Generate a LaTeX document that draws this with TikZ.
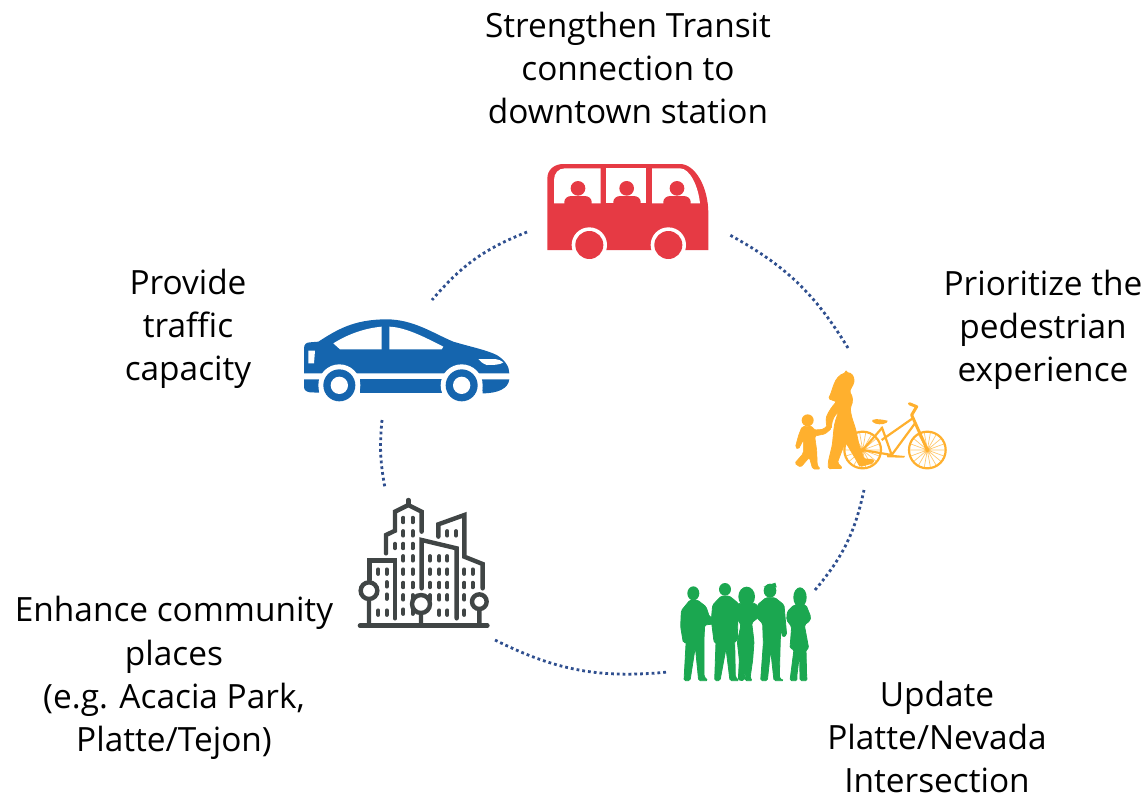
\documentclass[tikz,border=0pt]{standalone}
\usepackage{fontspec}
\setmainfont{Open Sans}
\definecolor{busred}{HTML}{E63A44}
\definecolor{carblue}{HTML}{1565AE}
\definecolor{walkor}{HTML}{FFB02E}
\definecolor{groupgr}{HTML}{1BA750}
\definecolor{citygr}{HTML}{404545}
\definecolor{dotblue}{HTML}{2F4F8F}
\tikzset{
 lab/.style={align=center,font=\fontsize{33.4}{43.2}\selectfont,text=black,inner sep=0pt},
 link/.style={draw=dotblue,line width=2.8pt,dash pattern=on 2.8pt off 3pt},
 zoomed/.style={x=0.33333pt,y=-0.33333pt},
 icon/.style={inner sep=0pt,outer sep=0pt,draw=none,fill=none},
 bld/.style={draw=citygr,line width=4.4pt,line join=miter,line cap=round},
 win/.style={draw=citygr,line width=3.8pt,line cap=round},
 soft/.style={rounded corners=1.6pt},
}
\begin{document}
\begin{tikzpicture}[x=1pt,y=-1pt]
\useasboundingbox (0,0) rectangle (1148,798);
% text
\node[lab] (t1) at (628,68) {Strengthen Transit\\connection to\\downtown station};
\node[lab] (t2) at (1043,330) {Prioritize the\\pedestrian\\experience};
\node[lab] (t3) at (937,737) {Update\\Platte/Nevada\\Intersection};
\node[lab] (t4) at (174,678) {Enhance community\\places\\(e.g. Acacia Park,\\Platte/Tejon)};
\node[lab] (t5) at (188,329) {Provide\\traffic\\capacity};
% connector ends
\coordinate (busL) at (527,232);
\coordinate (carT) at (432,300);
\coordinate (carB) at (382,420);
\coordinate (cityT) at (385,488);
\coordinate (cityR) at (495,640);
\coordinate (groupL) at (668,672);
\coordinate (groupR) at (815,590);
\coordinate (walkB) at (864,490);
\coordinate (walkT) at (848,348);
\coordinate (busR) at (728,234);
\draw[link] (busL) to[bend right=14] (carT);
\draw[link] (carB) to[bend right=8] (cityT);
\draw[link] (cityR) to[bend right=16] (groupL);
\draw[link] (groupR) to[bend right=14] (walkB);
\draw[link] (walkT) to[bend right=15] (busR);
% bus
\begin{scope}[shift={(530,150)},zoomed]
\fill[busred] (52,300) -- (52,85) .. controls (52,60) and (72,42) .. (100,42) -- (450,42) .. controls (495,42) and (535,110) .. (535,190) -- (535,300) -- cycle;
\fill[white] (72,160) -- (72,90) .. controls (72,70) and (85,55) .. (105,55) -- (212,55) -- (212,160) -- cycle;
\fill[white] (228,55) rectangle (348,160);
\fill[white] (366,55) -- (450,55) .. controls (480,55) and (505,110) .. (510,160) -- (366,160) -- cycle;
\foreach \hx/\sx in {144/144,290/291,441/441}{
 \fill[busred] (\hx,115) circle[radius=22];
 \fill[busred] (\sx-41,162) -- (\sx-41,155) .. controls (\sx-41,145) and (\sx-30,138) .. (\sx-20,138) -- (\sx+20,138) .. controls (\sx+30,138) and (\sx+41,145) .. (\sx+41,155) -- (\sx+41,162) -- cycle;
}
\foreach \wx in {178,415}{
 \fill[white] (\wx,285) circle[radius=53];
 \fill[busred] (\wx,285) circle[radius=42];
}
\node[icon] (bus) at (290,170) {};
\end{scope}
% car
\begin{scope}[shift={(290,310)},zoomed]
\fill[carblue] (42,190) -- (42,115) .. controls (42,102) and (50,97) .. (60,97) -- (85,95) .. controls (140,60) and (190,28) .. (290,28) .. controls (370,28) and (430,70) .. (490,95) .. controls (540,110) and (590,120) .. (620,135) .. controls (645,150) and (658,170) .. (658,190) -- cycle;
\fill[carblue] (42,208) -- (87,208) -- (87,248) -- (60,247) .. controls (48,245) and (42,240) .. (42,230) -- cycle;
\fill[carblue] (210,208) rectangle (470,250);
\fill[carblue] (575,208) -- (658,208) .. controls (655,235) and (625,250) .. (578,250) -- cycle;
\fill[white] (130,100) .. controls (170,75) and (220,55) .. (275,50) -- (275,118) -- (150,118) -- cycle;
\fill[white] (298,50) .. controls (350,52) and (410,85) .. (460,110) -- (455,118) -- (298,118) -- cycle;
\fill[white] (55,122) -- (75,122) -- (72,160) -- (55,160) -- cycle;
\fill[white] (565,147) -- (615,147) .. controls (625,148) and (635,152) .. (640,157) .. controls (630,165) and (610,165) .. (590,165) .. controls (578,160) and (570,155) .. (565,147) -- cycle;
\foreach \wx in {148,515}{
 \fill[white] (\wx,226) circle[radius=63];
 \fill[carblue] (\wx,226) circle[radius=48];
 \fill[white] (\wx,226) circle[radius=26];
}
\node[icon] (car) at (350,140) {};
\end{scope}
% walkers
\begin{scope}[shift={(780,360)},zoomed]
\foreach \wx in {248,442}{
 \draw[walkor!70,line width=0.7pt] \foreach \a in {0,20,...,340}{(\wx,270) -- ++(\a:55)};
 \draw[walkor,line width=2.2pt] (\wx,270) circle[radius=55];
 \fill[walkor] (\wx,270) circle[radius=6];
}
\draw[walkor,line width=2.2pt,line join=round] (248,270) -- (335,285) -- (305,200) (248,270) -- (305,205);
\draw[walkor,line width=2.2pt,line join=round] (305,240) -- (398,175) (335,285) -- (405,190);
\draw[walkor,line width=3pt,line join=round,line cap=round] (442,270) -- (395,165) -- (410,140) -- (388,131);
\fill[walkor] (277,180) .. controls (290,174) and (310,180) .. (323,182) -- (320,188) .. controls (310,195) and (285,195) .. (277,185) -- cycle;
\fill[walkor] (320,283) -- (375,288) -- (372,293) -- (322,292) -- cycle;
% woman
\filldraw[walkor,soft,line width=0.8pt] (198,38) .. controls (215,38) and (224,50) .. (221,70) -- (208,95) .. controls (218,108) and (220,125) .. (211,142) .. controls (212,170) and (224,195) .. (229,217) -- (237,255) -- (252,297) -- (280,298) -- (282,308) -- (240,320) -- (226,295) -- (196,245) -- (172,308) -- (188,325) -- (145,326) -- (145,305) -- (157,255) -- (161,215) .. controls (163,190) and (170,170) .. (178,152) -- (162,170) -- (155,190) -- (154,207) -- (140,200) -- (138,175) .. controls (145,155) and (160,135) .. (170,125) -- (145,116) .. controls (160,90) and (160,50) .. (198,38) -- cycle;
% child
\fill[walkor] (83,181) circle[radius=18];
\filldraw[walkor,soft,line width=0.6pt] (66,200) -- (96,198) -- (102,210) -- (130,208) -- (148,190) -- (155,205) -- (135,222) -- (104,228) -- (110,270) -- (112,318) -- (122,327) -- (98,327) -- (88,292) -- (62,322) -- (44,310) -- (70,280) -- (70,240) -- (55,268) -- (46,262) -- (56,225) -- cycle;
\node[icon] (walk) at (270,190) {};
\end{scope}
% group
\begin{scope}[shift={(670,570)},zoomed,groupgr,line width=0.8pt]
\fill (70,70) ellipse[x radius=18,y radius=21];
\filldraw[soft] (60,90) -- (82,90) -- (108,110) -- (118,140) -- (135,148) -- (130,162) -- (104,165) -- (102,205) -- (102,320) -- (114,332) -- (86,332) -- (76,230) -- (60,332) -- (42,332) -- (48,222) -- (50,200) -- (50,218) -- (40,218) -- (32,170) -- (34,122) -- cycle;
\fill (165,58) ellipse[x radius=18,y radius=19];
\filldraw[soft] (154,78) -- (178,78) -- (205,100) -- (202,212) -- (194,212) -- (196,322) -- (208,332) -- (180,332) -- (168,235) -- (150,332) -- (134,332) -- (138,215) -- (132,215) -- (124,150) -- (128,105) -- cycle;
\fill (230,80) ellipse[x radius=25,y radius=30];
\filldraw[soft] (203,100) -- (257,100) -- (275,135) -- (245,158) -- (252,215) -- (248,270) -- (240,325) -- (248,332) -- (225,332) -- (229,270) -- (222,332) -- (205,330) -- (208,270) -- (202,215) -- (213,165) -- (195,135) -- cycle;
\fill (300,62) ellipse[x radius=19,y radius=21];
\fill (280,50) -- (316,38) -- (320,52) -- cycle;
\filldraw[soft] (288,83) -- (315,83) -- (342,105) -- (350,195) -- (338,202) -- (332,175) -- (330,240) -- (328,325) -- (342,332) -- (312,332) -- (302,240) -- (292,332) -- (272,332) -- (280,220) -- (278,160) -- (262,145) -- (262,105) -- cycle;
\fill (390,82) ellipse[x radius=20,y radius=30];
\filldraw[soft] (372,105) -- (408,105) -- (422,140) -- (420,152) -- (403,165) -- (416,235) -- (408,238) -- (410,322) -- (412,332) -- (390,332) -- (389,250) -- (380,322) -- (382,332) -- (360,332) -- (372,238) -- (360,235) -- (365,170) -- (350,150) -- (352,125) -- cycle;
\node[icon] (group) at (220,190) {};
\end{scope}
% city
\begin{scope}[shift={(350,490)},zoomed]
\draw[citygr,line width=4.6pt,line cap=round] (30,407) -- (412,407);
\draw[bld] (57,302) circle[radius=25] (57,327) -- (57,407);
\draw[bld] (213,342) circle[radius=27] (213,369) -- (213,407);
\draw[bld] (388,335) circle[radius=22] (388,357) -- (388,407);
\draw[bld] (108,190) -- (108,135) -- (135,122) -- (135,65) -- (175,45) -- (215,65) -- (215,125);
\draw[bld] (175,30) -- (175,45);
\draw[bld] (58,270) -- (58,212) -- (135,212) -- (135,385);
\draw[bld] (215,295) -- (215,150) -- (320,175) -- (320,385);
\draw[bld] (265,140) -- (265,103) -- (343,75) -- (343,200) -- (398,222) -- (398,295);
\foreach \wx/\wy in {160/90,188/90,160/130,188/130,135/168,160/168,188/168,160/205,188/205,160/245,188/245,160/285,188/285,160/322,188/322,160/365,188/365,
 85/245,110/245,110/283,110/320,85/368,110/368,
 240/205,268/205,292/205,240/245,268/245,292/245,240/285,268/285,292/285,268/322,292/322,240/322,268/368,292/368,
 343/245,368/245,343/285,368/285,343/322,343/368,
 292/130,318/130}{
 \draw[win] (\wx,\wy-7) -- (\wx,\wy+7);
}
\node[icon] (city) at (220,220) {};
\end{scope}
\end{tikzpicture}
\end{document}
